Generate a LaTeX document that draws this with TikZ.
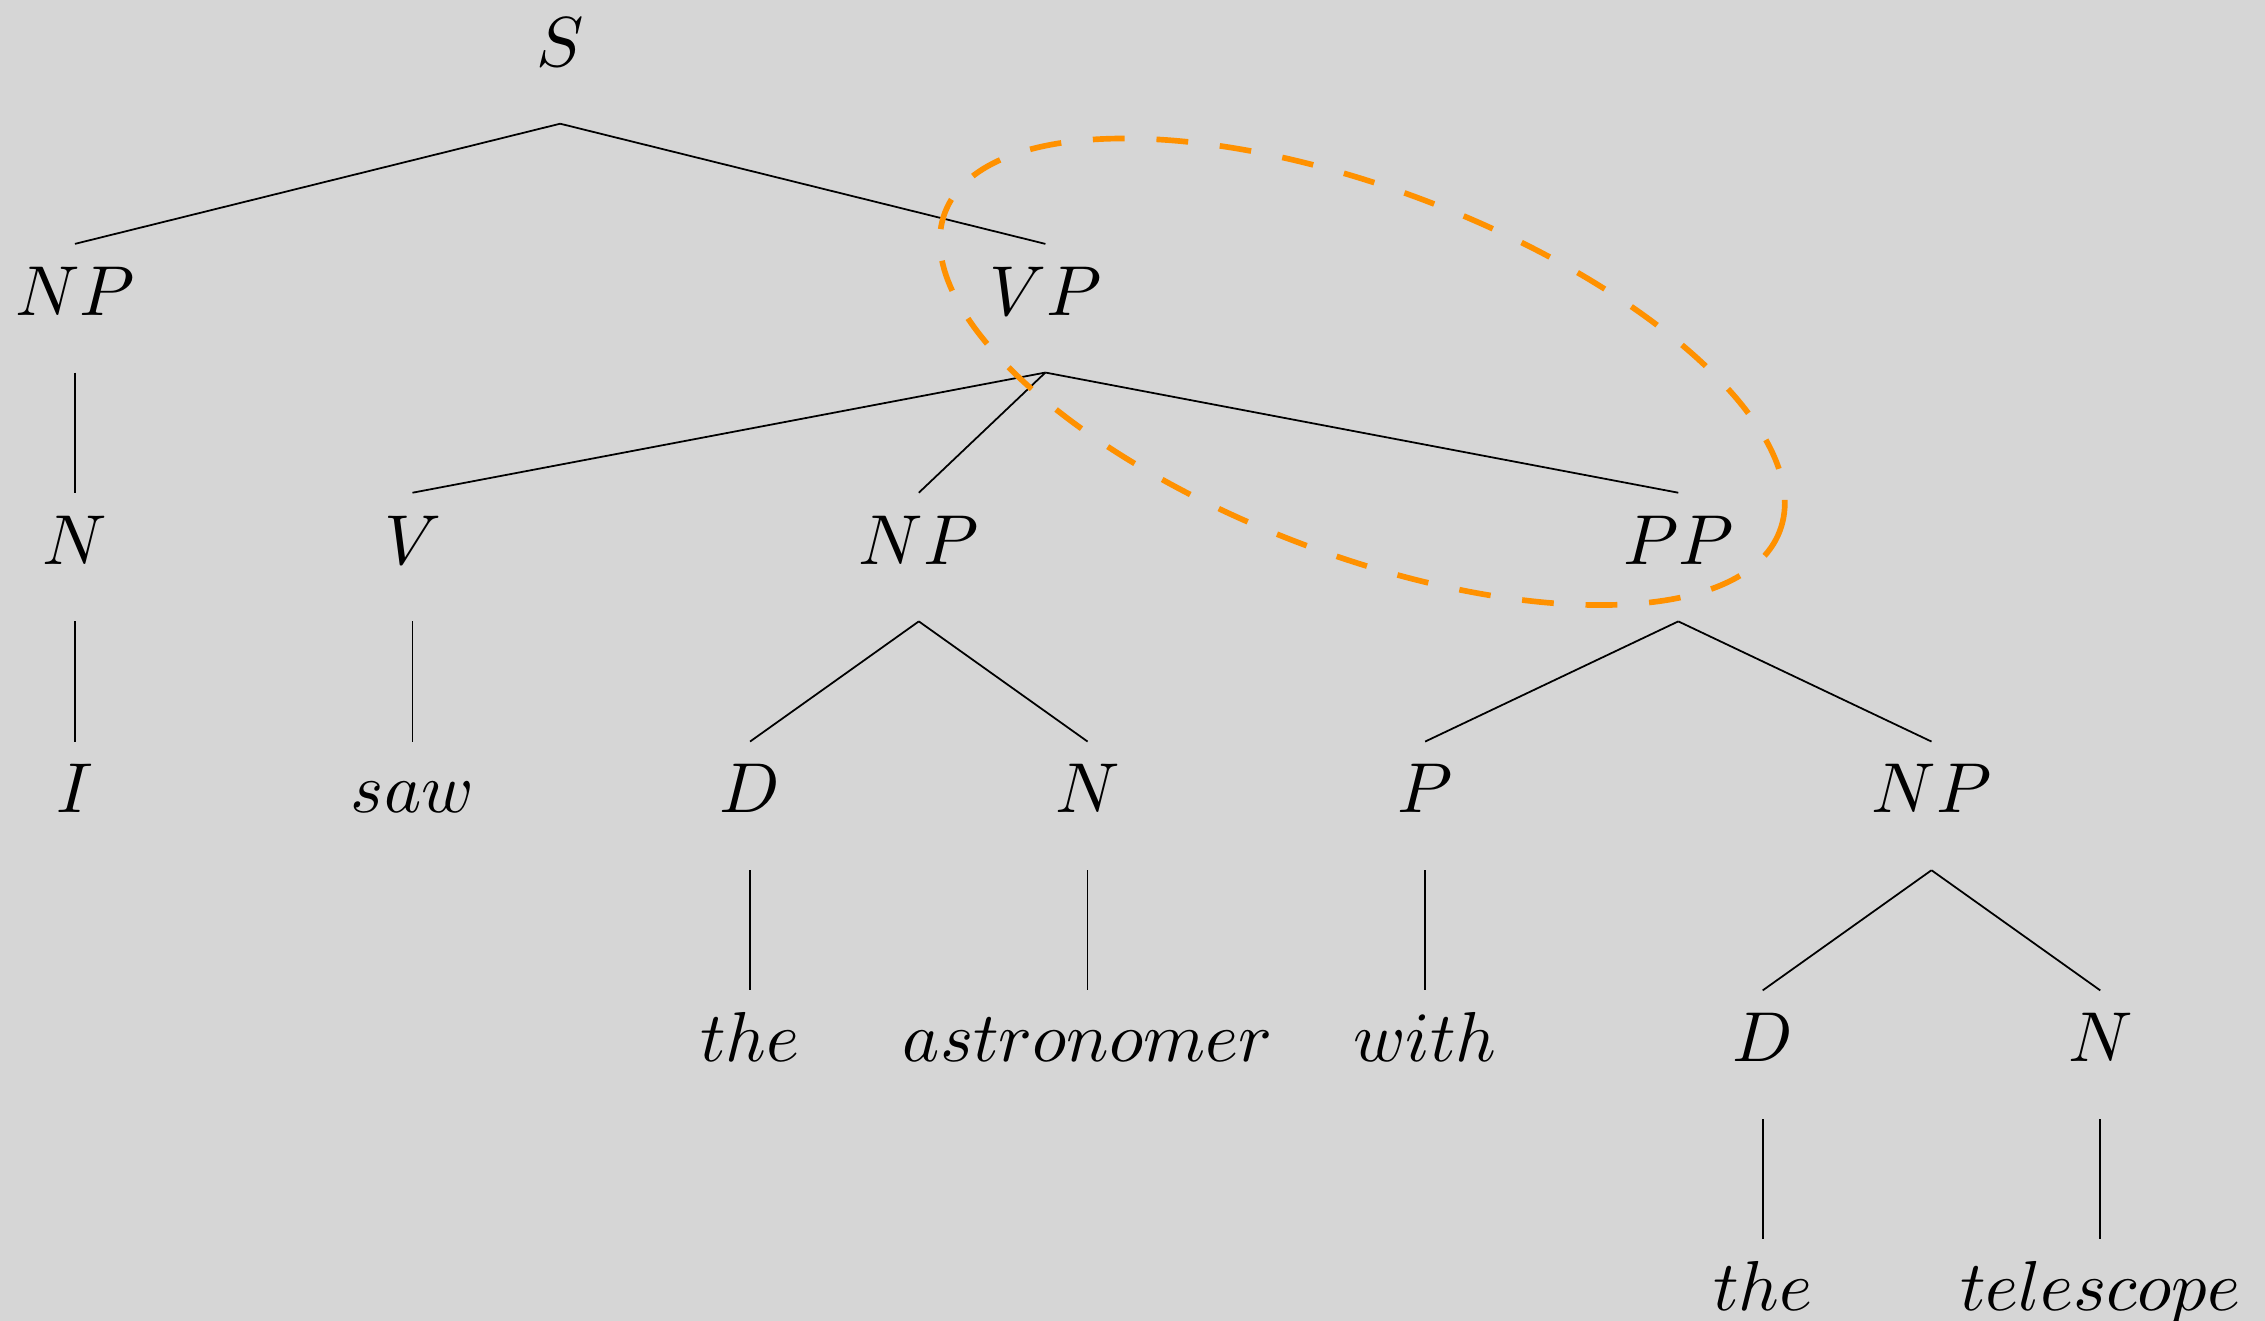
\documentclass[tikz,border=0pt]{standalone}
\definecolor{bggray}{RGB}{214,214,214}
\definecolor{ringorange}{RGB}{255,145,0}
\begin{document}
\begin{tikzpicture}[x=47.75pt,y=-35.2pt,
	cat/.style={anchor=base,text height=7.4pt,text depth=5.4pt,inner ysep=2.5pt,inner xsep=0pt},
	branch/.style={line width=.25pt}]
	\useasboundingbox (-.222,-.267) rectangle (6.488,5.04);
	\fill [bggray] (-.222,-.267) rectangle (6.488,5.04);
	\path node (s) at (1.4375,0) [cat] {$S$}
		  node (npsub) at (0,1) [cat] {$NP$}
		  node (vp) at (2.875,1) [cat] {$VP$}
		  node (nsub) at (0,2) [cat] {$N$}
		  node (v) at (1,2) [cat] {$V$}
		  node (npobj) at (2.5,2) [cat] {$NP$}
		  node (pp) at (4.75,2) [cat] {$PP$}
		  node (wi) at (0,3) [cat] {$I$}
		  node (wsaw) at (1,3) [cat] {$saw$}
		  node (dobj) at (2,3) [cat] {$D$}
		  node (nobj) at (3,3) [cat] {$N$}
		  node (prep) at (4,3) [cat] {$P$}
		  node (nppp) at (5.5,3) [cat] {$NP$}
		  node (wthe) at (2,4) [cat] {$the$}
		  node (wastr) at (3,4) [cat] {$astronomer$}
		  node (wwith) at (4,4) [cat] {$with$}
		  node (dpp) at (5,4) [cat] {$D$}
		  node (npp) at (6,4) [cat] {$N$}
		  node (wthetwo) at (5,5) [cat] {$the$}
		  node (wtel) at (6,5) [cat] {$telescope$};
	\draw [branch] (s.south) -- (npsub.north);
	\draw [branch] (s.south) -- (vp.north);
	\draw [branch] (npsub.south) -- (nsub.north);
	\draw [branch] (nsub.south) -- (wi.north);
	\draw [branch] (vp.south) -- (v.north);
	\draw [branch] (vp.south) -- (npobj.north);
	\draw [branch] (vp.south) -- (pp.north);
	\draw [branch] (v.south) -- (wsaw.north);
	\draw [branch] (npobj.south) -- (dobj.north);
	\draw [branch] (npobj.south) -- (nobj.north);
	\draw [branch] (dobj.south) -- (wthe.north);
	\draw [branch] (nobj.south) -- (wastr.north);
	\draw [branch] (pp.south) -- (prep.north);
	\draw [branch] (pp.south) -- (nppp.north);
	\draw [branch] (prep.south) -- (wwith.north);
	\draw [branch] (nppp.south) -- (dpp.north);
	\draw [branch] (nppp.south) -- (npp.north);
	\draw [branch] (dpp.south) -- (wthetwo.north);
	\draw [branch] (npp.south) -- (wtel.north);
	\draw [ringorange,thick,dash pattern=on 4.5pt off 4.5pt,shift={(3.814,1.227)},rotate=-20.9] (0,0) ellipse (63.2pt and 25.8pt);
\end{tikzpicture}
\end{document}
